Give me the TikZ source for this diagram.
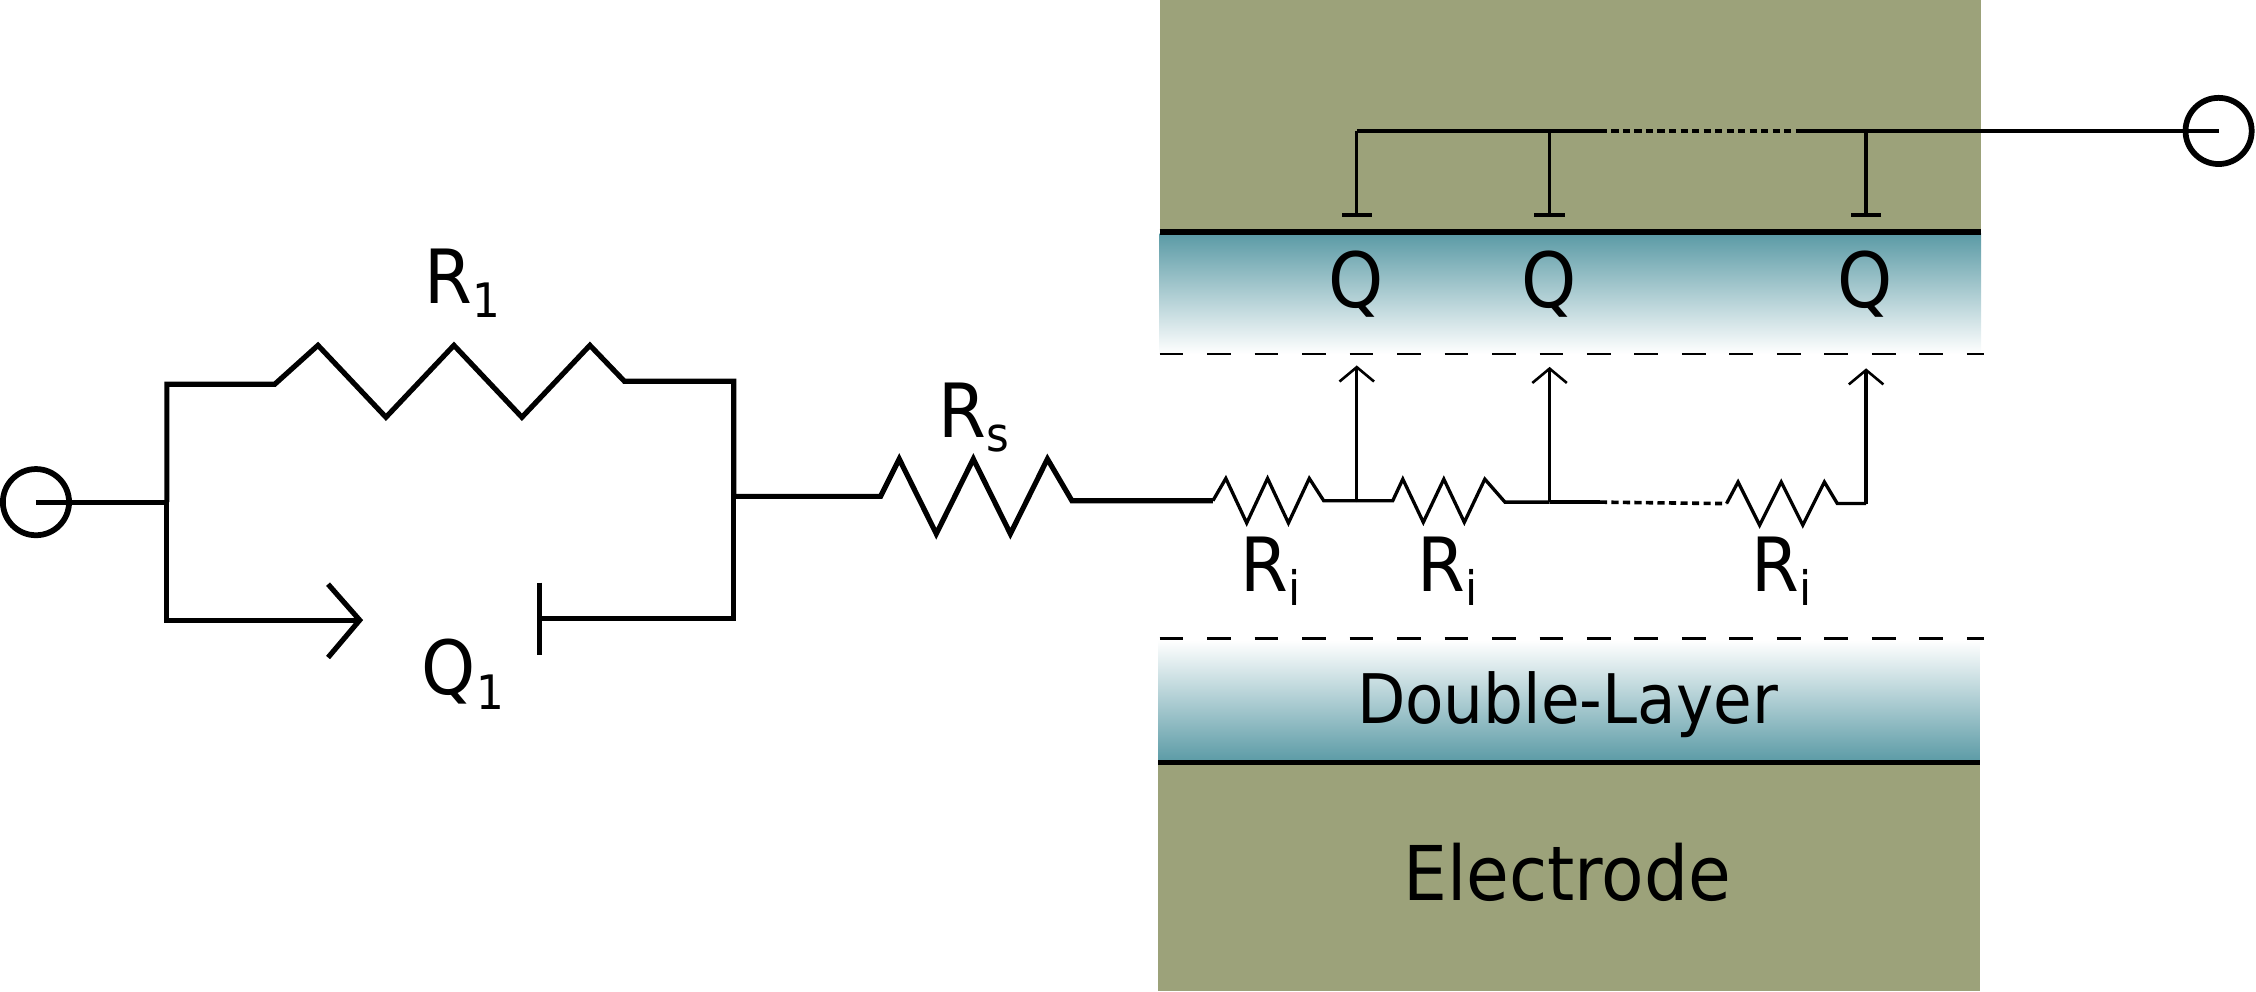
\documentclass[tikz,border=0pt]{standalone}
\usepackage{fontspec}
\setmainfont[FakeStretch=0.92]{DejaVu Sans}
\usepackage{xcolor}
\usetikzlibrary{arrows.meta}
\definecolor{electrodecol}{HTML}{9CA27A}
\definecolor{layercol}{HTML}{5A9AA5}
\newcommand\zigzag[6]{% first dx, step, amplitude, last dx, end offset, first rise extra
  -- ++(#1,-0.5*#3-#6) -- ++(#2,#3) -- ++(#2,-#3) -- ++(#2,#3) -- ++(#2,-#3) -- ++(#4,0.5*#3+#5+#6)
}
\newcommand\biglabel[2]{\fontsize{52}{54}\selectfont #1\raisebox{-10pt}{\fontsize{33}{34}\selectfont #2}}
\tikzset{
  wire/.style={line width=3.6pt},
  thinwire/.style={line width=2.3pt},
  interface/.style={line width=4pt},
  terminal/.style={circle,draw,line width=4pt,minimum size=46pt,inner sep=0pt},
  boundary/.style={line width=2pt,dash pattern=on 16.5pt off 16.5pt},
  dotwire/.style={line width=2.5pt,dash pattern=on 5pt off 3pt},
  lbl/.style={anchor=base west,inner sep=0pt},
  probe/.style={thinwire,-{Straight Barb[length=10pt,width=24pt,line width=1.8pt]}},
  contact/.style={thinwire,-{Bar[width=21pt,line width=3pt]}}
}
\begin{document}
\begin{tikzpicture}[x=1pt,y=-1pt]
    \useasboundingbox (0,0) rectangle (1568,689);

    % electrodes and layers
    \fill[electrodecol] (806,0) rectangle (1377,161);
    \shade[top color=layercol,bottom color=white] (806,162) rectangle (1377,246);
    \shade[top color=white,bottom color=layercol] (805,445) rectangle (1376,530);
    \fill[electrodecol] (805,530) rectangle (1376,689);
    \draw[interface] (806,161) -- (1377,161);
    \draw[interface] (805,530) -- (1376,530);
    \draw[boundary] (806,246) -- (1379,246);
    \draw[boundary] (806,444) -- (1379,444);

    % left circuit
    \node[terminal] (termL) at (25,349) {};
    \coordinate (inL) at (116,349);
    \coordinate (inR) at (510,345);
    \draw[wire] (termL.center) -- (inL);
    \draw[wire] (inL) -- (116,267) -- (191,267) \zigzag{30}{47.25}{50}{24}{-2}{2} -- (510,265) -- (inR);
    \draw[wire] (inL) -- (116,431) -- (250,431);
    \draw[wire,line join=miter] (228,406) -- (250,431) -- (228,457);
    \draw[wire] (375,405) -- (375,455);
    \draw[wire] (375,430) -- (510,430) -- (inR);
    \coordinate (midA) at (843,348);
    \draw[wire] (inR) -- (612,345) \zigzag{13}{25.75}{52}{17}{3}{0} -- (midA);

    % transmission line
    \coordinate (tapa) at (943,348);
    \coordinate (tapb) at (1077,349);
    \coordinate (tapc) at (1297,350);
    \coordinate (gapL) at (1112,349);
    \coordinate (gapR) at (1200,350);
    \draw[thinwire] (midA) \zigzag{9}{14.5}{31}{10}{0}{0} -- (tapa);
    \draw[thinwire] (tapa) -- (968,348) \zigzag{7}{14.25}{30}{14}{1}{0} -- (tapb);
    \draw[thinwire] (tapb) -- (gapL);
    \draw[dotwire] (gapL) -- (gapR);
    \draw[thinwire] (gapR) \zigzag{8}{15}{30}{9}{0}{0} -- (tapc);

    % top collector
    \node[terminal] (termR) at (1542,91) {};
    \coordinate (topa) at (943,91);
    \coordinate (topb) at (1077,91);
    \coordinate (topc) at (1297,91);
    \coordinate (gapT) at (1112,91);
    \coordinate (gapU) at (1250,91);
    \draw[thinwire] (gapT) -- (topa);
    \draw[dotwire] (gapT) -- (gapU);
    \draw[thinwire] (gapU) -- (termR.center);
    \foreach \a in {a,b,c}{
      \draw[contact] (top\a) -- +(0,60);
      \draw[probe] (tap\a) -- +(0,-94);
    }

    % labels
    \node[lbl] (rone) at (295,211) {\biglabel{R}{1}};
    \node[lbl] (rs) at (652,304) {\biglabel{R}{s}};
    \node[lbl] (qone) at (293,483) {\biglabel{Q}{1}};
    \foreach \n/\x in {a/923,b/1057,c/1277}{
      \node[lbl] (q\n) at (\x,214) {\fontsize{53}{54}\selectfont Q};
    }
    \foreach \n/\x in {a/862,b/985,c/1217}{
      \node[lbl] (ri\n) at (\x,411) {\biglabel{R}{i}};
    }
    \node[lbl] (dl) at (943,503) {\fontsize{47.5}{49}\selectfont Double-Layer};
    \node[lbl] (el) at (975,626) {\fontsize{52.5}{54}\selectfont Electrode};
\end{tikzpicture}
\end{document}
